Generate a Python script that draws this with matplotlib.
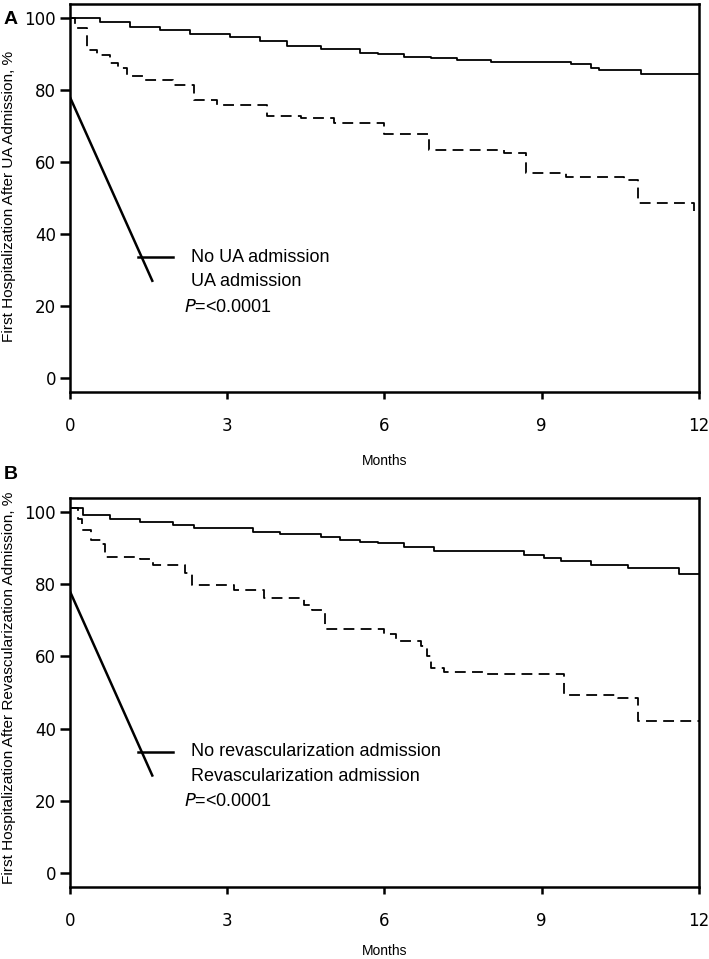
import numpy as np
import matplotlib.pyplot as plt

plt.rcParams['font.family'] = ['Liberation Sans', 'DejaVu Sans']

# Panel A - UA admission
a_no_t = [0, 0.57, 1.15, 1.72, 2.29, 3.06, 3.63, 4.14, 4.78, 5.54, 5.87, 6.37, 6.88, 7.39,
          8.03, 9.55, 9.94, 10.1, 10.9, 12]
a_no_s = [100, 98.8, 97.6, 96.8, 95.7, 94.6, 93.7, 92.3, 91.3, 90.2, 90.0, 89.3, 88.8, 88.3,
          87.8, 87.1, 86.2, 85.6, 84.4, 84.4]
a_ua_t = [0, 0.1, 0.32, 0.51, 0.76, 0.92, 1.08, 1.4, 1.97, 2.36, 2.8, 3.76, 4.4, 5.03,
          5.99, 6.84, 8.28, 8.7, 9.46, 10.57, 10.84, 11.91]
a_ua_s = [100, 97.2, 91.0, 89.7, 87.4, 86.0, 84.0, 82.8, 81.4, 77.2, 75.8, 72.8, 72.1, 70.8,
          67.9, 63.3, 62.6, 56.9, 55.9, 55.0, 48.6, 46.5]

# Panel B - revascularization admission
b_no_t = [0, 0.25, 0.76, 1.34, 1.97, 2.36, 2.87, 3.5, 4.0, 4.78, 5.16, 5.54, 5.87, 6.37,
          6.94, 8.66, 9.04, 9.36, 9.94, 10.64, 11.62, 12]
b_no_s = [101, 99.2, 98.2, 97.3, 96.4, 95.7, 95.5, 94.5, 93.9, 93.0, 92.2, 91.8, 91.5, 90.4,
          89.3, 88.1, 87.4, 86.4, 85.3, 84.6, 82.8, 82.8]
b_rv_t = [0, 0.16, 0.23, 0.41, 0.6, 0.67, 1.34, 1.59, 2.2, 2.33, 3.12, 3.7, 4.46, 4.62,
          4.87, 5.99, 6.21, 6.69, 6.82, 6.88, 7.13, 7.89, 9.42, 10.45, 10.84, 12]
b_rv_s = [101, 98.2, 95.0, 92.2, 91.1, 87.6, 86.9, 85.3, 83.1, 79.7, 78.5, 76.3, 74.3, 72.9,
          67.5, 66.1, 64.3, 62.9, 60.1, 56.9, 55.6, 55.0, 49.4, 48.5, 42.0, 42.0]

x_ticks = [0, 3, 6, 9, 12]
y_ticks = [0, 20, 40, 60, 80, 100]

W, H = 709, 959

panels = [
    dict(letter='A', letter_y=20, pos=[70 / W, 1 - 392 / H, 629 / W, 388 / H],
         ylabel='First Hospitalization After UA Admission, %', ylab_y=196,
         t1=a_no_t, s1=a_no_s, t2=a_ua_t, s2=a_ua_s,
         lab1='No UA admission', lab2='UA admission', months_y=461),
    dict(letter='B', letter_y=474, pos=[70 / W, 1 - 887 / H, 629 / W, 389 / H],
         ylabel='First Hospitalization After Revascularization Admission, %', ylab_y=688,
         t1=b_no_t, s1=b_no_s, t2=b_rv_t, s2=b_rv_s,
         lab1='No revascularization admission', lab2='Revascularization admission',
         months_y=951),
]

fig = plt.figure(figsize=(W / 100, H / 100), dpi=100)

for p in panels:
    ax = fig.add_axes(p['pos'])
    ax.step(p['t1'], p['s1'], where='post', color='black', lw=1.3)
    ax.step(p['t2'], p['s2'], where='post', color='black', lw=1.3, dashes=(6, 3.5))
    # stray legend strokes as in the source figure
    ax.plot([0, 1.57], [78, 27], color='black', lw=1.8)
    ax.plot([1.30, 1.97], [33.6, 33.6], color='black', lw=1.8)
    ax.text(2.3, 33.6, p['lab1'], fontsize=13, va='center')
    ax.text(2.3, 26.8, p['lab2'], fontsize=13, va='center')
    ax.text(2.18, 19.7, r'$\it{P}$=<0.0001', fontsize=13, va='center')

    ax.set_xlim(0, 12)
    ax.set_ylim(-3.9, 103.9)
    ax.set_xticks(x_ticks)
    ax.set_yticks(y_ticks)
    ax.tick_params(axis='both', width=1.8, direction='out')
    ax.tick_params(axis='y', length=7, pad=3)
    ax.tick_params(axis='x', length=5, pad=13)
    for lab in ax.get_xticklabels() + ax.get_yticklabels():
        lab.set_fontfamily('DejaVu Sans')
        lab.set_fontsize(12)
    for sp in ax.spines.values():
        sp.set_linewidth(1.8)

    fig.text(9 / W, 1 - p['ylab_y'] / H, p['ylabel'], rotation=90, fontsize=11.1,
             ha='center', va='center')
    fig.text(4 / W, 1 - p['letter_y'] / H, p['letter'], fontsize=14, fontweight='bold',
             va='center')
    fig.text(p['pos'][0] + p['pos'][2] / 2, 1 - p['months_y'] / H, 'Months', fontsize=10,
             ha='center', va='center')

fig.savefig('out.png', dpi=100)
